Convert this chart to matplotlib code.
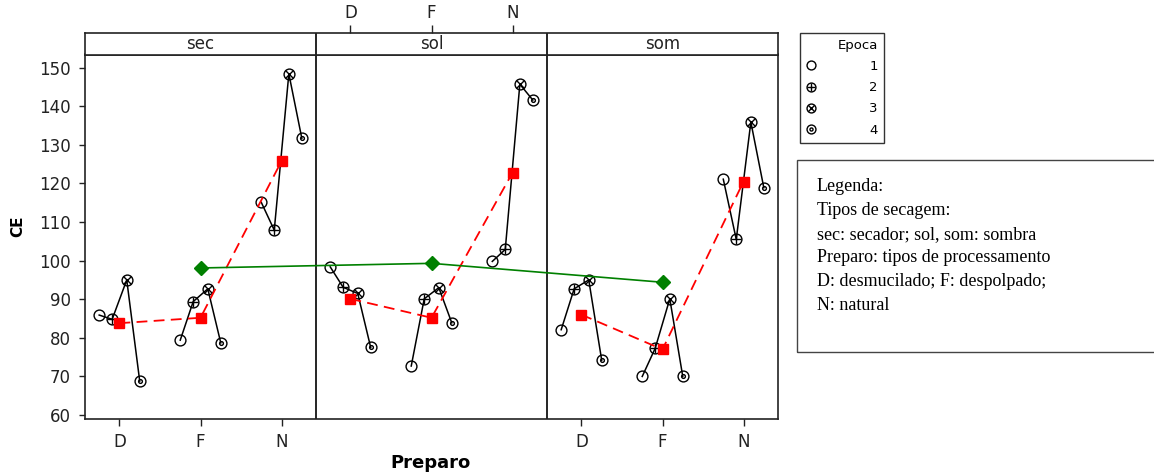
import matplotlib
matplotlib.use("Agg")
import matplotlib.pyplot as plt
from matplotlib.lines import Line2D
from matplotlib.patches import Rectangle

# ---------------- data ----------------
secagem = ["sec", "sol", "som"]
preparo = ["D", "F", "N"]
epocas = ["1", "2", "3", "4"]

# CE values: rows = preparo (D, F, N), columns = epoca (1..4)
ce_sec = [[85.9, 84.8, 95.0, 68.8],
          [79.4, 89.4, 92.7, 78.7],
          [115.1, 107.9, 148.4, 131.7]]
ce_sol = [[98.4, 93.1, 91.5, 77.5],
          [72.7, 90.1, 93.0, 83.9],
          [99.8, 102.9, 145.7, 141.6]]
ce_som = [[82.1, 92.7, 95.0, 74.2],
          [70.0, 77.3, 90.1, 70.0],
          [121.1, 105.5, 135.9, 118.9]]

# mean per preparo within each secagem (red squares)
media_preparo_sec = [83.8, 85.2, 125.8]
media_preparo_sol = [90.1, 85.2, 122.8]
media_preparo_som = [86.0, 77.0, 120.5]

# mean per secagem (green diamonds)
media_secagem = [98.1, 99.3, 94.4]

legenda_linhas = ["Legenda:",
                  "Tipos de secagem:",
                  "sec: secador; sol, som: sombra",
                  "Preparo: tipos de processamento",
                  "D: desmucilado; F: despolpado;",
                  "N: natural"]

yticks = [60, 70, 80, 90, 100, 110, 120, 130, 140, 150]

# ---------------- layout ----------------
W, H = 1154, 475
PW = 2.85                      # panel width in x units
offsets = [-0.25, -0.09, 0.09, 0.25]
ov_marker = [None, "+", "x", "o"]
ov_size = [0, 7.8, 5.5, 2.7]

panels_ce = [ce_sec, ce_sol, ce_som]
panels_media = [media_preparo_sec, media_preparo_sol, media_preparo_som]

fig = plt.figure(figsize=(W / 100, H / 100), dpi=100)
ax = fig.add_axes([85 / W, 1 - 419.3 / H, 693 / W, 364.8 / H])
xmin, xmax = 1 - PW / 2, 1 + PW / 2 + 2 * PW
ax.set_xlim(xmin, xmax)
ax.set_ylim(58.9, 153.4)

for p, data in enumerate(panels_ce):
    for j in range(len(preparo)):
        xs = [p * PW + j + off for off in offsets]
        ax.plot(xs, data[j], color="black", lw=1.1, zorder=2)
    for k in range(len(epocas)):
        xs = [p * PW + j + offsets[k] for j in range(len(preparo))]
        ys = [data[j][k] for j in range(len(preparo))]
        ax.plot(xs, ys, ls="none", marker="o", ms=7.8, mfc="none",
                mec="black", mew=1.0, zorder=3)
        if ov_marker[k] is not None:
            ax.plot(xs, ys, ls="none", marker=ov_marker[k], ms=ov_size[k],
                    mfc="none", mec="black", mew=1.0, zorder=3)
    ax.plot([p * PW + j for j in range(len(preparo))], panels_media[p],
            color="#ff0000", lw=1.3, dashes=(6.0, 3.5), marker="s", ms=7.7,
            mfc="#ff0000", mec="#ff0000", zorder=4)

ax.plot([p * PW + 1 for p in range(len(secagem))], media_secagem,
        color="#008000", lw=1.2, marker="D", ms=7, mfc="#008000",
        mec="#008000", zorder=5)

for b in (1 + PW / 2, 1 + 3 * PW / 2):
    ax.axvline(b, color="black", lw=1.2, zorder=1)

bottom_ticks = [p * PW + j for p in (0, 2) for j in range(len(preparo))]
ax.set_xticks(bottom_ticks)
ax.set_xticklabels(preparo * 2)
ax.set_yticks(yticks)
ax.set_yticklabels([str(v) for v in yticks])
ax.tick_params(axis="x", direction="out", length=5, width=1, labelsize=12,
               pad=5, colors="#222222")
ax.tick_params(axis="y", direction="out", length=4.5, width=1, labelsize=12,
               pad=5.5, colors="#222222")
for s in ax.spines.values():
    s.set_linewidth(1.2)
    s.set_color("#222222")

# strip
sx = fig.add_axes([85 / W, 1 - 54.5 / H, 693 / W, 21.8 / H])
sx.set_xlim(xmin, xmax)
sx.set_ylim(0, 1)
sx.set_yticks([])
sx.xaxis.tick_top()
sx.set_xticks([PW + j for j in range(len(preparo))])
sx.set_xticklabels(preparo)
sx.tick_params(axis="x", direction="out", length=5.5, width=1, labelsize=12,
               pad=2, colors="#222222")
for b in (1 + PW / 2, 1 + 3 * PW / 2):
    sx.axvline(b, color="black", lw=1.2)
for p, name in enumerate(secagem):
    sx.text(p * PW + 1, 0.47, name, ha="center", va="center", fontsize=12,
            color="#222222")
for s in sx.spines.values():
    s.set_linewidth(1.2)
    s.set_color("#222222")

# axis labels
fig.text(18 / W, 1 - 226 / H, "CE", rotation=90, ha="center", va="center",
         fontsize=11, fontweight="bold")
fig.text(431 / W, 1 - 463 / H, "Preparo", ha="center", va="center",
         fontsize=13, fontweight="bold")

# legend (Epoca)
handles = []
for k in range(len(epocas)):
    base = Line2D([], [], ls="none", marker="o", ms=6.4, mfc="none",
                  mec="black", mew=1.0)
    if ov_marker[k] is None:
        handles.append(base)
    else:
        ov = Line2D([], [], ls="none", marker=ov_marker[k],
                    ms=ov_size[k] * 0.82, mfc="none", mec="black", mew=1.0)
        handles.append((base, ov))
leg = fig.legend(handles, epocas, title="Epoca", loc="upper left",
                 bbox_to_anchor=(800 / W, 1 - 33 / H), fontsize=9.5,
                 title_fontsize=9.5, frameon=True, fancybox=False,
                 edgecolor="black", borderpad=0.45, handlelength=0.8,
                 handletextpad=4.0, labelspacing=0.62, alignment="right",
                 borderaxespad=0)
leg.get_frame().set_linewidth(1.0)

# text box
fig.add_artist(Rectangle((797 / W, 1 - 351.7 / H), (1170 - 797) / W,
                         (351.7 - 160) / H, transform=fig.transFigure,
                         fill=False, ec="#444444", lw=1.0))
for i, line in enumerate(legenda_linhas):
    fig.text(817 / W, 1 - (191 + 23.8 * i) / H, line, ha="left",
             va="baseline", fontsize=13, family="Liberation Serif")

fig.savefig("out.png", dpi=100)
